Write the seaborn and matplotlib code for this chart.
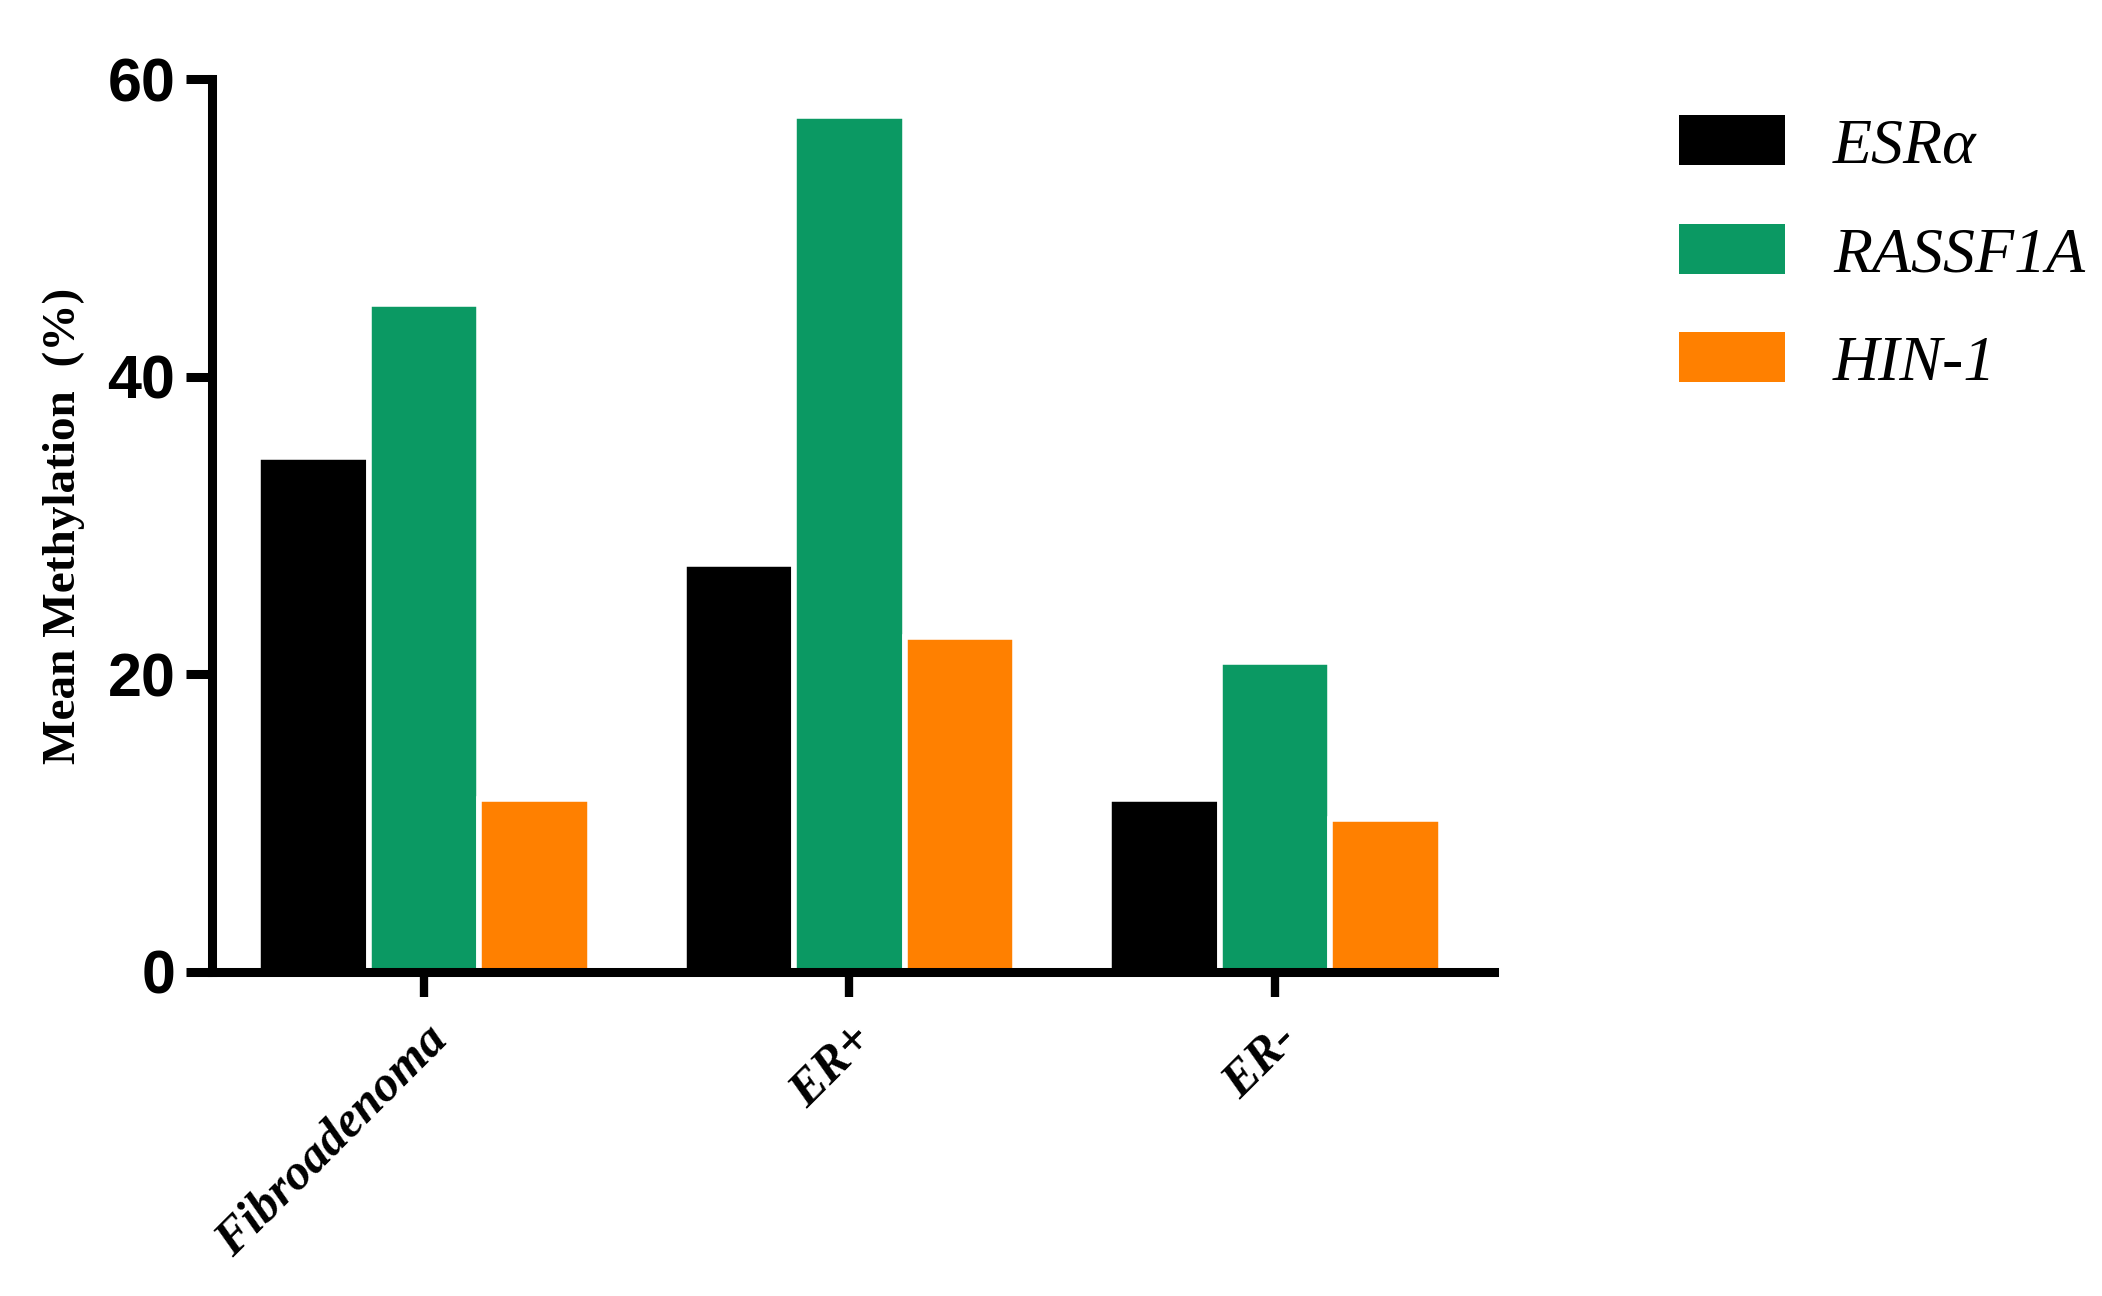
import pandas as pd
import numpy as np
import matplotlib
matplotlib.use("Agg")
import matplotlib.pyplot as plt
import seaborn as sns
from matplotlib.patches import Patch

groups = ["Fibroadenoma", "ER+", "ER-"]
genes = ["ESRα", "RASSF1A", "HIN-1"]
esr_a = [34.6, 27.4, 11.6]
rassf1a = [44.9, 57.5, 20.8]
hin1 = [11.6, 22.5, 10.3]
colors = ["#000000", "#0B9963", "#FF8000"]

df = pd.DataFrame({
    "group": groups * 3,
    "gene": [genes[0]] * 3 + [genes[1]] * 3 + [genes[2]] * 3,
    "value": esr_a + rassf1a + hin1,
})

sns.set_style("ticks")
plt.rcParams["font.family"] = ["Liberation Sans", "DejaVu Sans"]
plt.rcParams["text.color"] = "black"
plt.rcParams["axes.labelcolor"] = "black"
plt.rcParams["xtick.color"] = "black"
plt.rcParams["ytick.color"] = "black"

fig = plt.figure(figsize=(21.02, 12.96), dpi=100)
ax = fig.add_axes([0.1009, 0.25, 0.6099, 0.689])

sns.barplot(data=df, x="group", y="value", hue="gene", hue_order=genes,
            order=groups, palette=colors, saturation=1, width=0.78,
            edgecolor="white", linewidth=4, errorbar=None, legend=False, ax=ax)

ax.set_xlim(-0.498, 2.515)
ax.set_ylim(0, 60)
ax.set_yticks([0, 20, 40, 60])
sns.despine(ax=ax)
for s in ["left", "bottom"]:
    ax.spines[s].set_linewidth(6.5)
    ax.spines[s].set_color("black")

ax.tick_params(axis="y", length=18.5, width=6.5, pad=8, labelsize=44,
               color="black", labelcolor="black")
ax.tick_params(axis="x", length=18, width=6, pad=14, color="black",
               labelcolor="black")
for lab in ax.get_yticklabels():
    lab.set_fontweight("bold")

ax.set_xticks(range(len(groups)))
ax.set_xticklabels(groups, rotation=45, ha="right", va="top",
                   rotation_mode="anchor", fontsize=36,
                   family=["Liberation Serif", "DejaVu Serif"],
                   fontweight="bold", fontstyle="italic")

ax.set_xlabel("")
ax.set_ylabel("Mean Methylation  (%)", fontsize=34, color="black",
              family=["Liberation Serif", "DejaVu Serif"], fontweight="bold")
ax.yaxis.set_label_coords(-0.099, 0.5)

handles = [Patch(facecolor=c, edgecolor="none") for c in colors]
fig.legend(handles, genes, loc="upper left", bbox_to_anchor=(0.7988, 0.911),
           frameon=False, borderpad=0, borderaxespad=0,
           handlelength=1.66, handleheight=0.83, handletextpad=0.75,
           labelspacing=0.74, labelcolor="black",
           prop={"family": ["Liberation Serif", "DejaVu Serif"],
                 "style": "italic", "size": 46})

fig.savefig("out.png", dpi=100)
